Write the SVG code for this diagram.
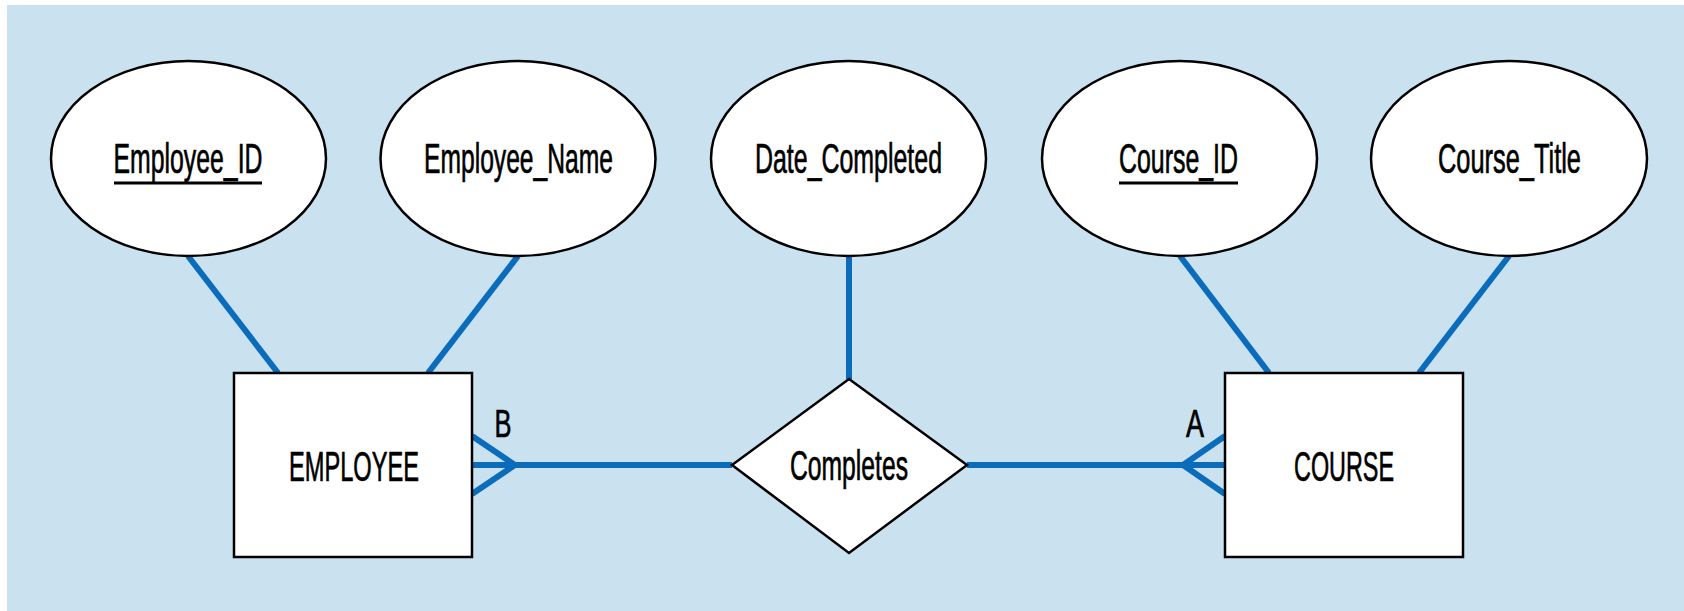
<svg xmlns="http://www.w3.org/2000/svg" width="1684" height="611" viewBox="0 0 1684 611">
  <style>
    .bg { fill: #cae2f0; }
    .attr { fill: #ffffff; stroke: #000000; stroke-width: 2.5; }
    .ent { fill: #ffffff; stroke: #000000; stroke-width: 2.5; }
    .rel { fill: #ffffff; stroke: #000000; stroke-width: 2.5; stroke-linejoin: miter; }
    .lbl { font-family: "Liberation Sans", Arial, sans-serif; font-size: 42px; fill: #000000; stroke: #000000; stroke-width: 0.7; text-anchor: middle; }
    .card { font-family: "Liberation Sans", Arial, sans-serif; font-size: 39px; fill: #000000; stroke: #000000; stroke-width: 0.7; text-anchor: middle; }
    .ul { stroke: #000000; stroke-width: 3; }
    .conn { stroke: #0b6cbc; stroke-width: 6; fill: none; stroke-linecap: butt; stroke-linejoin: miter; }
  </style>
  <rect x="0" y="0" width="1684" height="611" fill="#ffffff"/>
  <rect class="bg" x="7" y="5" width="1677" height="606"/>

  <g id="connectors">
    <line class="conn" x1="188" y1="256" x2="278" y2="373"/>
    <line class="conn" x1="518" y1="256" x2="428" y2="373"/>
    <line class="conn" x1="849" y1="255" x2="849" y2="379"/>
    <line class="conn" x1="1180" y1="256" x2="1269" y2="373"/>
    <line class="conn" x1="1509" y1="256" x2="1419" y2="373"/>
    <line class="conn" x1="472" y1="465" x2="732" y2="465"/>
    <line class="conn" x1="967" y1="465" x2="1225" y2="465"/>
    <polyline class="conn" points="472,436 515,465 472,494"/>
    <polyline class="conn" points="1225,436 1183,465 1225,494"/>
  </g>

  <g id="employee_id">
    <ellipse class="attr" cx="188.5" cy="158.5" rx="137.5" ry="97.5"/>
    <text class="lbl" x="188" y="173" textLength="149" lengthAdjust="spacingAndGlyphs">Employee_ID</text>
    <line class="ul" x1="114" y1="183" x2="262" y2="183"/>
  </g>
  <g id="employee_name">
    <ellipse class="attr" cx="518" cy="158.5" rx="137.5" ry="97.5"/>
    <text class="lbl" x="518.5" y="173" textLength="189" lengthAdjust="spacingAndGlyphs">Employee_Name</text>
  </g>
  <g id="date_completed">
    <ellipse class="attr" cx="848.5" cy="158.5" rx="137.5" ry="97.5"/>
    <text class="lbl" x="848.5" y="173" textLength="187" lengthAdjust="spacingAndGlyphs">Date_Completed</text>
  </g>
  <g id="course_id">
    <ellipse class="attr" cx="1179.5" cy="158.5" rx="137.5" ry="97.5"/>
    <text class="lbl" x="1178.5" y="173" textLength="119" lengthAdjust="spacingAndGlyphs">Course_ID</text>
    <line class="ul" x1="1119" y1="183" x2="1238" y2="183"/>
  </g>
  <g id="course_title">
    <ellipse class="attr" cx="1509" cy="158.5" rx="138" ry="97.5"/>
    <text class="lbl" x="1509.5" y="173" textLength="143" lengthAdjust="spacingAndGlyphs">Course_Title</text>
  </g>

  <g id="employee">
    <rect class="ent" x="234" y="373" width="238" height="184"/>
    <text class="lbl" x="354" y="481" textLength="130" lengthAdjust="spacingAndGlyphs">EMPLOYEE</text>
  </g>
  <g id="completes">
    <polygon class="rel" points="849,379 967,465 849,553 732,465"/>
    <text class="lbl" x="849" y="480" textLength="118" lengthAdjust="spacingAndGlyphs">Completes</text>
  </g>
  <g id="course">
    <rect class="ent" x="1225" y="373" width="238" height="184"/>
    <text class="lbl" x="1344" y="481" textLength="100" lengthAdjust="spacingAndGlyphs">COURSE</text>
  </g>

  <g id="cardinality">
    <text class="card" x="503" y="437" textLength="17" lengthAdjust="spacingAndGlyphs">B</text>
    <text class="card" x="1195" y="437" textLength="18" lengthAdjust="spacingAndGlyphs">A</text>
  </g>
</svg>
